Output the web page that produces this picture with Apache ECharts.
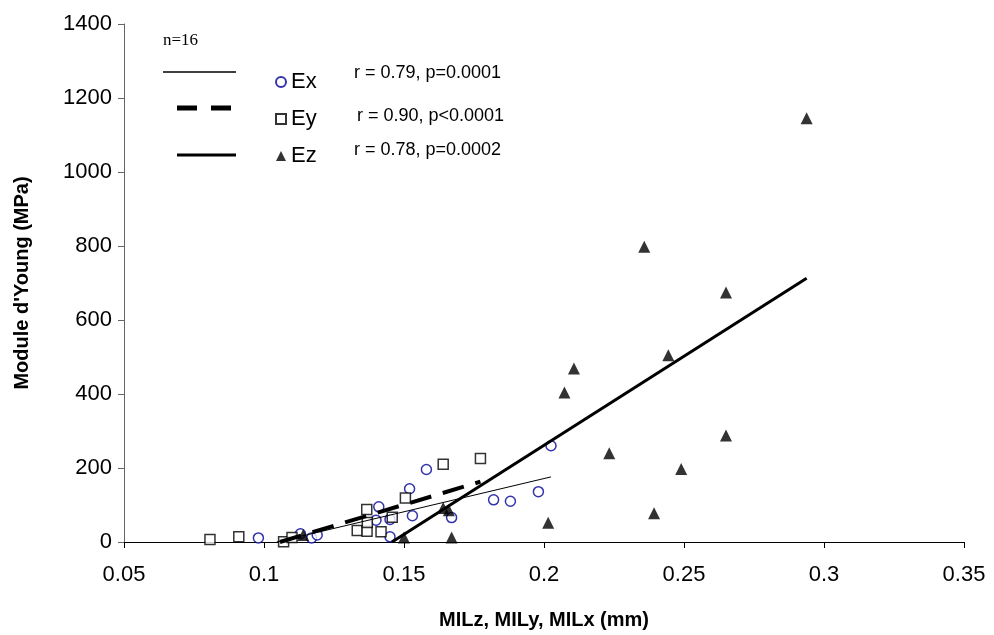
<!DOCTYPE html>
<html>
<head>
<meta charset="utf-8">
<script src="https://cdn.jsdelivr.net/npm/echarts@6/dist/echarts.min.js"></script>
<style>
  html, body { margin: 0; padding: 0; background: #fff; }
  #chart { width: 994px; height: 635px; }
</style>
</head>
<body>
<div id="chart"></div>
<script>
// MIL (mm) vs module d'Young (MPa)
const exPoints = [
  [0.098, 11], [0.113, 22], [0.117, 11], [0.119, 19], [0.140, 59], [0.141, 95],
  [0.145, 61], [0.145, 14], [0.152, 144], [0.153, 71], [0.158, 196], [0.167, 66],
  [0.182, 114], [0.188, 110], [0.198, 136], [0.2025, 260]
];
const eyPoints = [
  [0.0807, 7], [0.091, 14], [0.107, 1], [0.110, 12], [0.1333, 31], [0.1368, 29],
  [0.1369, 53], [0.1367, 88], [0.1418, 28], [0.1458, 67], [0.1505, 119],
  [0.164, 210], [0.1773, 226]
];
const ezPoints = [
  [0.114, 19], [0.150, 12], [0.164, 92], [0.166, 86], [0.167, 12], [0.2015, 52],
  [0.2073, 404], [0.2107, 469], [0.2233, 240], [0.2358, 798], [0.2393, 78],
  [0.2444, 505], [0.249, 197], [0.265, 674], [0.265, 288], [0.2938, 1145]
];
// trend lines (start / end)
const exTrend = [[0.1045, 0], [0.2025, 176]];
const eyTrend = [[0.1057, 0], [0.1773, 163]];
const ezTrend = [[0.1457, 0], [0.2938, 713]];

const seriesNames = ['Ex', 'Ey', 'Ez'];
const statLabels = ['r = 0.79, p=0.0001', 'r = 0.90, p<0.0001', 'r = 0.78, p=0.0002'];
const xTicks = [0.05, 0.1, 0.15, 0.2, 0.25, 0.3, 0.35];
const yTicks = [0, 200, 400, 600, 800, 1000, 1200, 1400];

const chart = echarts.init(document.getElementById('chart'), null, { renderer: 'canvas' });

const sans = 'Liberation Sans, Arial, sans-serif';

const option = {
  animation: false,
  backgroundColor: '#fff',
  grid: { left: 124, right: 30, top: 24, bottom: 93 },
  xAxis: {
    type: 'value',
    min: xTicks[0],
    max: xTicks[xTicks.length - 1],
    interval: 0.05,
    name: 'MILz, MILy, MILx (mm)',
    nameLocation: 'middle',
    nameGap: 68,
    nameTextStyle: { fontFamily: sans, fontWeight: 'bold', fontSize: 20, color: '#000' },
    axisLine: { onZero: false, lineStyle: { color: '#000', width: 1 } },
    axisTick: { show: true, inside: false, length: 6, lineStyle: { color: '#000' } },
    axisLabel: {
      margin: 22, fontFamily: sans, fontSize: 22, color: '#000',
      formatter: v => String(parseFloat(v.toFixed(2)))
    },
    splitLine: { show: false }
  },
  yAxis: {
    type: 'value',
    min: yTicks[0],
    max: yTicks[yTicks.length - 1],
    interval: 200,
    name: "Module d'Young (MPa)",
    nameLocation: 'middle',
    nameGap: 92,
    nameTextStyle: { fontFamily: sans, fontWeight: 'bold', fontSize: 20, color: '#000' },
    axisLine: { show: true, lineStyle: { color: '#666', width: 1 } },
    axisTick: { show: true, inside: false, length: 6, lineStyle: { color: '#666' } },
    axisLabel: {
      margin: 12, fontFamily: sans, fontSize: 22, color: '#000',
      formatter: v => String(v)
    },
    splitLine: { show: false }
  },
  legend: {
    data: seriesNames,
    orient: 'vertical',
    left: 270,
    top: 66,
    itemWidth: 10,
    itemHeight: 10,
    itemGap: 15,
    textStyle: { fontFamily: sans, fontSize: 22, color: '#000', lineHeight: 22 },
    selectedMode: false
  },
  graphic: [
    { type: 'text', left: 163, top: 32, style: { text: 'n=16', font: '17px "Liberation Serif", "Times New Roman", serif', fill: '#000' } },
    { type: 'line', shape: { x1: 163, y1: 72, x2: 236, y2: 72 }, style: { stroke: '#000', lineWidth: 1.5 } },
    { type: 'line', shape: { x1: 177, y1: 108, x2: 231, y2: 108 }, style: { stroke: '#000', lineWidth: 5, lineDash: [20, 14] } },
    { type: 'line', shape: { x1: 177, y1: 155, x2: 236, y2: 155 }, style: { stroke: '#000', lineWidth: 3 } },
    { type: 'text', left: 354, top: 64, style: { text: statLabels[0], font: '18px ' + sans, fill: '#000' } },
    { type: 'text', left: 357, top: 107, style: { text: statLabels[1], font: '18px ' + sans, fill: '#000' } },
    { type: 'text', left: 354, top: 141, style: { text: statLabels[2], font: '18px ' + sans, fill: '#000' } }
  ],
  series: [
    {
      name: 'Ex', type: 'scatter', data: exPoints, symbol: 'circle', symbolSize: 10,
      itemStyle: { color: '#fff', borderColor: '#000099', borderWidth: 1.5 }, z: 3
    },
    {
      name: 'Ey', type: 'scatter', data: eyPoints, symbol: 'rect', symbolSize: 10,
      itemStyle: { color: '#fff', borderColor: '#000', borderWidth: 1.5 }, z: 3
    },
    {
      name: 'Ez', type: 'scatter', data: ezPoints, symbol: 'triangle', symbolSize: 12,
      itemStyle: { color: '#000' }, z: 3
    },
    {
      name: 'Ex trend', type: 'line', data: exTrend, symbol: 'none',
      lineStyle: { color: '#000', width: 1 }, z: 4
    },
    {
      name: 'Ey trend', type: 'line', data: eyTrend, symbol: 'none',
      lineStyle: { color: '#000', width: 4, type: [22, 12] }, z: 4
    },
    {
      name: 'Ez trend', type: 'line', data: ezTrend, symbol: 'none',
      lineStyle: { color: '#000', width: 3 }, z: 4
    }
  ]
};

chart.setOption(option);
</script>
</body>
</html>
